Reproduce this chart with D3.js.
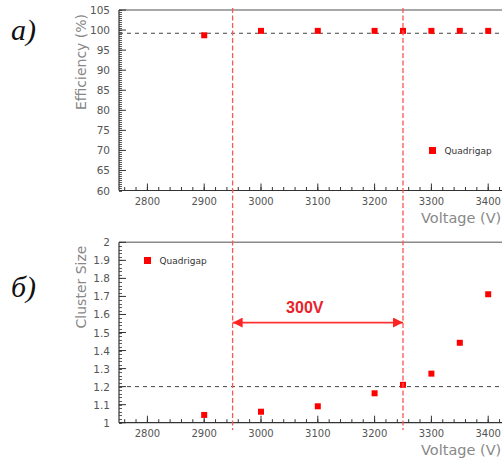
<!DOCTYPE html>
<html>
<head>
<meta charset="utf-8">
<script src="https://cdn.jsdelivr.net/npm/d3@7"></script>
<style>
  body { margin: 0; background: #fff; }
  svg { display: block; font-family: "DejaVu Sans", sans-serif; }
</style>
</head>
<body>
<div id="chart"></div>
<script>
// data
let voltages = [2900, 3000, 3100, 3200, 3250, 3300, 3350, 3400];
let efficiency = [98.7, 99.8, 99.8, 99.8, 99.8, 99.8, 99.8, 99.8];
let clusterSize = [1.043, 1.061, 1.091, 1.163, 1.21, 1.272, 1.443, 1.712];
let xTicks = [2800, 2900, 3000, 3100, 3200, 3300, 3400];
let effTicks = [60, 65, 70, 75, 80, 85, 90, 95, 100, 105];
let csTicks = [1, 1.1, 1.2, 1.3, 1.4, 1.5, 1.6, 1.7, 1.8, 1.9, 2];
let plateau = [2950, 3250];
let effRef = 99.2, csRef = 1.2;
let seriesName = "Quadrigap";

let W = 502, H = 459;
let svg = d3.select("#chart").append("svg").attr("width", W).attr("height", H);

let x = d3.scaleLinear().domain([2750, 3450]).range([119, 516.6]);

function panel(cfg) {
    let y = d3.scaleLinear().domain(cfg.domain).range([cfg.bottom, cfg.top]);
    let g = svg.append("g");

    // top frame
    g.append("line").attr("x1", x.range()[0]).attr("x2", W + 20)
        .attr("y1", cfg.top).attr("y2", cfg.top)
        .attr("stroke", "#8a8a8a").attr("stroke-width", 1.5);

    // minor y ticks
    g.selectAll(".ymin").data(cfg.minor).enter().append("line")
        .attr("x1", x.range()[0]).attr("x2", x.range()[0] + 3)
        .attr("y1", d => Math.round(y(d)) + 0.5).attr("y2", d => Math.round(y(d)) + 0.5)
        .attr("stroke", "#333").attr("stroke-width", 0.8);
    // major y ticks
    g.selectAll(".ymaj").data(cfg.ticks).enter().append("line")
        .attr("x1", x.range()[0]).attr("x2", x.range()[0] + 7)
        .attr("y1", d => y(d)).attr("y2", d => y(d))
        .attr("stroke", "#333").attr("stroke-width", 1);
    g.selectAll(".ylab").data(cfg.ticks).enter().append("text")
        .attr("x", 110).attr("y", d => y(d) + 4)
        .attr("text-anchor", "end").attr("font-size", 10.5).attr("fill", "#555")
        .text(d => d);

    // x ticks
    let xMinor = d3.range(2760, 3460, 20);
    g.selectAll(".xmin").data(xMinor).enter().append("line")
        .attr("x1", d => x(d)).attr("x2", d => x(d))
        .attr("y1", cfg.bottom).attr("y2", cfg.bottom - 3.5)
        .attr("stroke", "#333").attr("stroke-width", 1);
    g.selectAll(".xmaj").data(xTicks).enter().append("line")
        .attr("x1", d => x(d)).attr("x2", d => x(d))
        .attr("y1", cfg.bottom).attr("y2", cfg.bottom - 7)
        .attr("stroke", "#333").attr("stroke-width", 1);
    g.selectAll(".xlab").data(xTicks).enter().append("text")
        .attr("x", d => x(d)).attr("y", cfg.bottom + 14)
        .attr("text-anchor", "middle").attr("font-size", 10).attr("fill", "#555")
        .text(d => d);

    // axes lines
    g.append("line").attr("x1", x.range()[0]).attr("x2", W + 20)
        .attr("y1", cfg.bottom).attr("y2", cfg.bottom).attr("stroke", "#333").attr("stroke-width", 1.2);
    g.append("line").attr("x1", x.range()[0]).attr("x2", x.range()[0])
        .attr("y1", cfg.top).attr("y2", cfg.bottom).attr("stroke", "#333").attr("stroke-width", 1.2);

    // reference dashed line
    g.append("line").attr("x1", x.range()[0]).attr("x2", W)
        .attr("y1", y(cfg.ref)).attr("y2", y(cfg.ref))
        .attr("stroke", "#444").attr("stroke-width", 1).attr("stroke-dasharray", "4,4");

    // axis titles
    g.append("text")
        .attr("transform", `translate(${cfg.yTitleX},${cfg.yTitleY}) rotate(-90)`)
        .attr("text-anchor", "middle").attr("font-size", 14).attr("fill", "#888")
        .text(cfg.yTitle);
    g.append("text").attr("x", 421).attr("y", cfg.bottom + 32)
        .attr("font-size", 14.5).attr("fill", "#888").text("Voltage  (V)");

    // points
    g.selectAll(".pt").data(voltages).enter().append("rect")
        .attr("x", d => x(d) - 3).attr("y", (d, i) => y(cfg.values[i]) - 3)
        .attr("width", 6).attr("height", 6).attr("fill", "#f00");

    // legend
    g.append("rect").attr("x", cfg.legX - 3.5).attr("y", cfg.legY - 3.5)
        .attr("width", 7).attr("height", 7).attr("fill", "#f00");
    g.append("text").attr("x", cfg.legX + 12).attr("y", cfg.legY + 3.5)
        .attr("font-size", 9).attr("fill", "#333").text(seriesName);

    // panel letter
    g.append("text").attr("x", 11).attr("y", cfg.letterY)
        .style("font-family", "'Liberation Serif', serif").style("font-style", "italic")
        .attr("font-size", 30).attr("fill", "#111").text(cfg.letter);
    return y;
}

panel({
    domain: [60, 105], top: 10, bottom: 190.5, ticks: effTicks,
    minor: d3.range(60, 105.01, 0.5), ref: effRef, values: efficiency,
    yTitle: "Efficiency (%)", yTitleX: 86, yTitleY: 62,
    legX: 432.5, legY: 150.5, letter: "а)", letterY: 40
});
let yB = panel({
    domain: [1, 2], top: 242.3, bottom: 422.7, ticks: csTicks,
    minor: d3.range(1, 2.001, 0.02), ref: csRef, values: clusterSize,
    yTitle: "Cluster Size", yTitleX: 86, yTitleY: 287,
    legX: 147.5, legY: 260.5, letter: "б)", letterY: 297
});

// plateau lines
svg.selectAll(".plat").data(plateau).enter().append("line")
    .attr("x1", d => x(d)).attr("x2", d => x(d))
    .attr("y1", 8).attr("y2", 430)
    .attr("stroke", "#f55").attr("stroke-width", 1.3).attr("stroke-dasharray", "5,2.5");

// arrow
let defs = svg.append("defs");
defs.append("marker").attr("id", "ah").attr("viewBox", "0 0 10 10")
    .attr("refX", 10).attr("refY", 5).attr("markerWidth", 10).attr("markerHeight", 10)
    .attr("markerUnits", "userSpaceOnUse").attr("orient", "auto-start-reverse")
    .append("path").attr("d", "M0,0 L10,5 L0,10 Z").attr("fill", "#f22");
let ay = yB(1.555);
svg.append("line").attr("x1", x(plateau[0])).attr("x2", x(plateau[1]))
    .attr("y1", ay).attr("y2", ay)
    .attr("stroke", "#f33").attr("stroke-width", 1.6)
    .attr("marker-start", "url(#ah)").attr("marker-end", "url(#ah)");
svg.append("text").attr("x", (x(plateau[0]) + x(plateau[1])) / 2 - 13).attr("y", ay - 10)
    .attr("text-anchor", "middle")
    .style("font-family", "'Liberation Sans', Arial, sans-serif")
    .attr("font-weight", "bold").attr("font-size", 16).attr("fill", "#e8232a")
    .text((plateau[1] - plateau[0]) + "V");
</script>
</body>
</html>
